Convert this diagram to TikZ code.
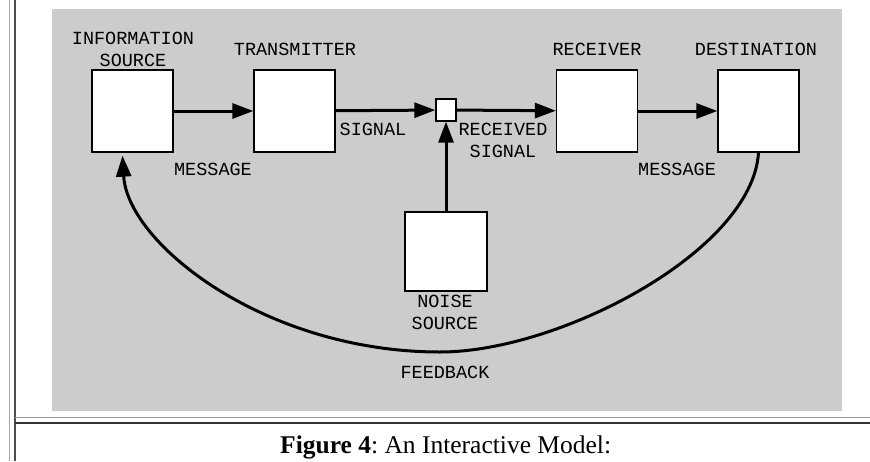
\documentclass[tikz,border=0pt]{standalone}
\usepackage{fontspec}
\newfontfamily\labelfont{Liberation Mono}
\newfontfamily\capfont{Liberation Serif}
\usetikzlibrary{arrows.meta}
\frenchspacing
\begin{document}
\begin{tikzpicture}[x=1pt,y=-1pt,
  box/.style={draw,line width=1.3pt,fill=white,minimum width=81pt,minimum height=82pt,inner sep=0pt},
  lbl/.style={font=\labelfont\fontsize{18.5}{22}\selectfont,align=center,inner sep=0pt},
  flow/.style={line width=3pt,-{Triangle[length=21pt,width=15pt]}}]
\useasboundingbox (0,0) rectangle (870,461);
% frame of the page
\draw[gray!70,line width=1.2pt] (9.5,0) -- (9.5,461);
\draw[black!70,line width=1.5pt] (15,0) -- (15,461);
\draw[gray!80,line width=1.5pt] (15,417.5) -- (870,417.5);
\draw[black!80,line width=2pt] (15,422.5) -- (870,422.5);
\fill[gray!40] (52,9) rectangle (842,411);
% boxes
\node[box] (src) at (132.5,111) {};
\node[box] (tx) at (294.5,111) {};
\node[box,minimum width=20pt,minimum height=22pt] (mix) at (446,110) {};
\node[box] (rx) at (597,111) {};
\node[box] (dst) at (758.5,111) {};
\node[box,minimum height=79pt,minimum width=82pt] (noise) at (446,251.5) {};
% labels
\node[lbl] (lsrc) at (133,49) {INFORMATION\\SOURCE};
\node[lbl] (ltx) at (295,49) {TRANSMITTER};
\node[lbl] (lrx) at (597,49) {RECEIVER};
\node[lbl] (ldst) at (756,49) {DESTINATION};
\node[lbl] (lsig) at (373,129) {SIGNAL};
\node[lbl] (lrsig) at (503,140) {RECEIVED\\SIGNAL};
\node[lbl] (lmsg1) at (213,169) {MESSAGE};
\node[lbl] (lmsg2) at (677,169) {MESSAGE};
\node[lbl] (lnoise) at (445,312) {NOISE\\SOURCE};
\node[lbl] (lfb) at (445,372) {FEEDBACK};
% arrows
\draw[flow] (src) -- (tx);
\draw[flow] (tx) -- (mix);
\draw[flow] (mix) -- (rx);
\draw[flow] (rx) -- (dst);
\draw[flow] (noise) -- (mix);
\coordinate (low) at (440,352);
\draw[flow] (dst.south) .. controls +(-6,98) and +(120,0) .. (low)
  .. controls +(-175,0) and +(5,88) .. ([xshift=-10pt,yshift=-3pt]src.south);
% caption
\node[anchor=base west,inner sep=0pt,font=\capfont\fontsize{25.5}{30}\selectfont] (cap) at (280,453)
  {\textbf{Figure 4}: An Interactive Model:};
\end{tikzpicture}
\end{document}
